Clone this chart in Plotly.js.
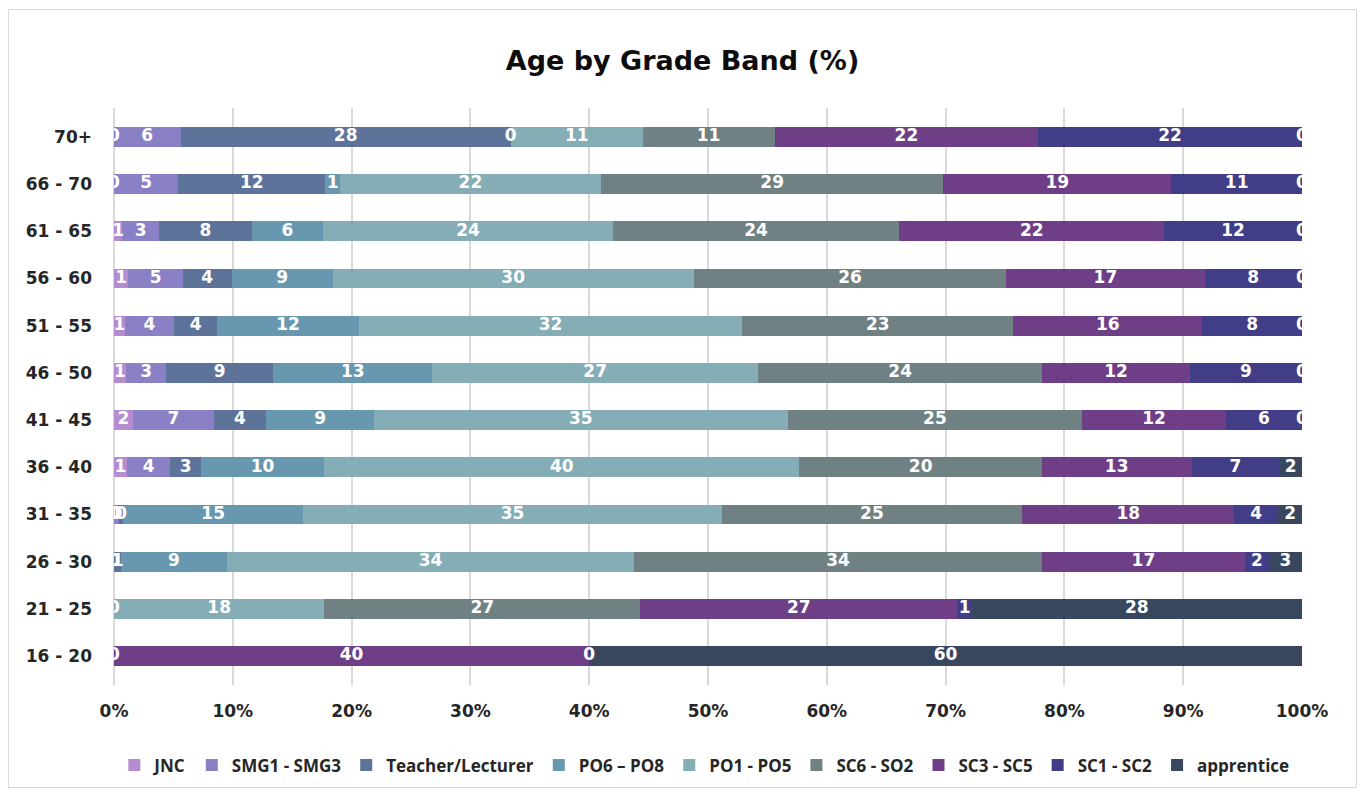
<!DOCTYPE html>
<html>
<head>
<meta charset="utf-8">
<script src="https://cdn.plot.ly/plotly-3.0.1.min.js"></script>
<style>
  html, body { margin: 0; padding: 0; background: #ffffff; }
  #wrap { position: relative; width: 1365px; height: 794px; }
  #chart { position: absolute; left: 0; top: 0; width: 1365px; height: 794px; }
  #frame { position: absolute; left: 8px; top: 9px; width: 1347px; height: 777px; border: 1px solid #d9d9d9; pointer-events: none; }
</style>
</head>
<body>
<div id="wrap"><div id="chart"></div><div id="frame"></div></div>
<script>
// Age bands, top row first
const ageBands = ['70+', '66 - 70', '61 - 65', '56 - 60', '51 - 55', '46 - 50',
                  '41 - 45', '36 - 40', '31 - 35', '26 - 30', '21 - 25', '16 - 20'];

// Series names (legend order)
const seriesNames = ['JNC', 'SMG1 - SMG3', 'Teacher/Lecturer', 'PO6 \u2013 PO8', 'PO1 - PO5',
                     'SC6 - SO2', 'SC3 - SC5', 'SC1 - SC2', 'apprentice'];

// Percentages per series, in ageBands order (null = no value)
const jnc        = [0,    0,    0.7,  1.2,  0.9,  1.0,  1.6,  1.1,  0,     0,    0,    0];
const smg        = [5.6,  5.4,  3.1,  4.6,  4.15, 3.4,  6.8,  3.65, 0.45,  null, null, null];
const teacher    = [27.8, 12.4, 7.8,  4.1,  3.65, 9.0,  4.4,  2.55, 0.3,   0.6,  null, null];
const po68       = [0,    1.2,  6.0,  8.5,  11.9, 13.4, 9.1,  10.4, 15.2,  8.9,  null, null];
const po15       = [11.1, 22.0, 24.4, 30.4, 32.3, 27.4, 34.8, 40.0, 35.2,  34.3, 17.7, null];
const sc6so2     = [11.1, 28.8, 24.1, 26.3, 22.8, 23.95,24.8, 20.4, 25.3,  34.3, 26.6, null];
const sc35       = [22.2, 19.2, 22.3, 16.7, 15.9, 12.4, 12.1, 12.6, 17.85, 17.1, 26.7, 40];
const sc12       = [22.2, 11.0, 11.6, 8.2,  8.4,  9.45, 6.4,  7.4,  3.7,   2.0,  1.2,  0];
const apprentice = [0,    0,    0,    0,    0,    0,    0,    1.9,  2.0,   2.8,  27.8, 60];

const seriesValues = [jnc, smg, teacher, po68, po15, sc6so2, sc35, sc12, apprentice];
const seriesColors = ['#b48ccf', '#8a80c6', '#5e7399', '#6898b0', '#85adb6',
                      '#6f8182', '#6e3f87', '#413d86', '#38465e'];

const FONT = 'DejaVu Sans, Open Sans, sans-serif';
const LEGEND_FONT = 'Open Sans, Noto Sans, sans-serif';

const traces = [];
seriesValues.forEach((vals, i) => {
  traces.push({
    type: 'bar',
    orientation: 'h',
    name: seriesNames[i],
    y: ageBands,
    x: vals,
    marker: { color: seriesColors[i], line: { width: 0 } },
    hoverinfo: 'name+x'
  });
});

// Data labels centred in each segment, computed from the cumulative sums
const lx = [], ly = [], lt = [];
ageBands.forEach((band, r) => {
  let cum = 0;
  seriesValues.forEach(vals => {
    const v = vals[r];
    if (v === null || v === undefined) return;
    lx.push(cum + v / 2);
    ly.push(band);
    lt.push(String(Math.round(v)));
    cum += v;
  });
});
traces.push({
  type: 'scatter',
  mode: 'text',
  x: lx, y: ly, text: lt,
  textposition: 'middle center',
  textfont: { family: FONT, size: 17, color: '#ffffff', weight: 'bold' },
  cliponaxis: true,
  showlegend: false,
  hoverinfo: 'skip'
});

const layout = {
  width: 1365,
  height: 794,
  paper_bgcolor: '#ffffff',
  plot_bgcolor: '#ffffff',
  barmode: 'stack',
  bargap: 0.58,
  margin: { l: 114, r: 63, t: 108, b: 109, pad: 0 },
  font: { family: FONT, color: '#262626' },
  title: {
    text: '<b>Age by Grade Band (%)</b>',
    font: { family: FONT, size: 27, color: '#0d0d0d' },
    x: 0.5, xref: 'container', xanchor: 'center',
    y: 0.924, yref: 'container', yanchor: 'middle'
  },
  xaxis: {
    range: [0, 100],
    tickmode: 'linear', tick0: 0, dtick: 10,
    ticksuffix: '%',
    showgrid: true, gridcolor: '#d9d9d9', gridwidth: 2,
    zeroline: true, zerolinecolor: '#d9d9d9', zerolinewidth: 2,
    showline: false,
    ticks: '',
    ticklabelstandoff: 14,
    tickfont: { family: FONT, size: 17, color: '#262626', weight: 'bold' },
    fixedrange: true
  },
  yaxis: {
    type: 'category',
    categoryorder: 'array',
    categoryarray: ageBands,
    autorange: 'reversed',
    showgrid: false, zeroline: false, showline: false,
    ticks: '',
    ticklabelstandoff: 21,
    tickfont: { family: FONT, size: 17, color: '#262626', weight: 'bold' },
    fixedrange: true
  },
  legend: {
    orientation: 'h',
    x: 0.516, xanchor: 'center', xref: 'container',
    y: 0.036, yanchor: 'middle', yref: 'container',
    font: { family: LEGEND_FONT, size: 17, color: '#262626', weight: 'bold' },
    traceorder: 'normal',
    itemwidth: 30,
    tracegroupgap: 0
  },
  showlegend: true
};

Plotly.newPlot('chart', traces, layout, { displayModeBar: false, staticPlot: true });
</script>
</body>
</html>
